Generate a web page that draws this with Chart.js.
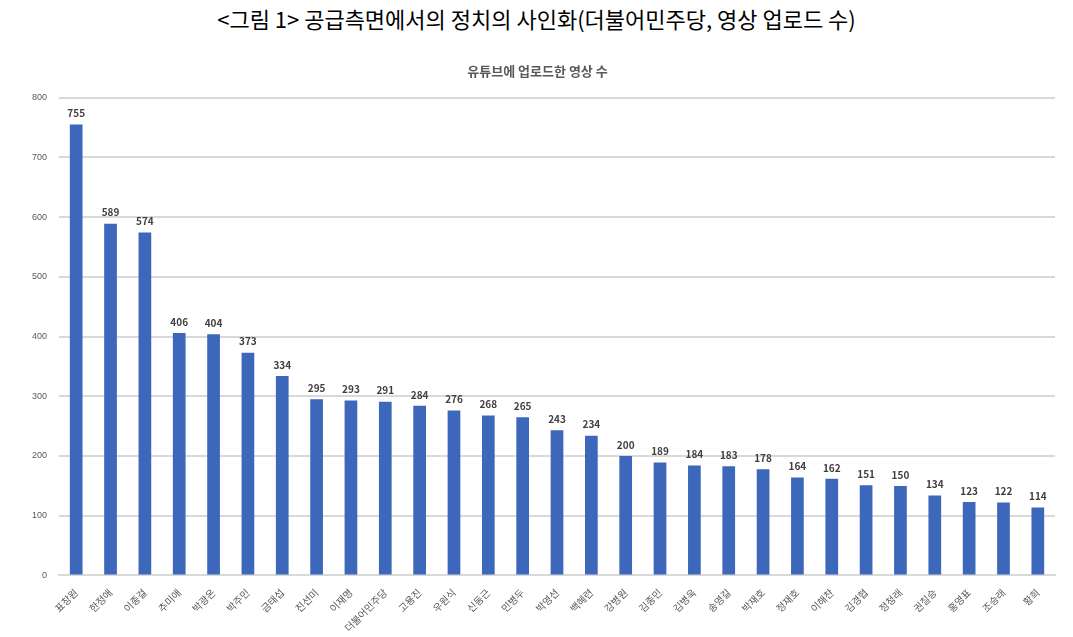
<!DOCTYPE html>
<html><head><meta charset="utf-8">
<script src="https://cdn.jsdelivr.net/npm/chart.js@4"></script>
<style>
body{margin:0;background:#fff;font-family:"Noto Sans CJK KR",sans-serif;}
#t{position:absolute;left:0;top:2px;width:1073px;text-align:center;font-size:22px;color:#000;font-family:"Noto Sans CJK KR";}
#w{position:absolute;left:20px;top:54px;width:1045px;height:583px;}
</style></head><body>
<div id="t">&lt;그림 1&gt; 공급측면에서의 정치의 사인화(더불어민주당, 영상 업로드 수)</div>
<div id="w"><canvas id="c"></canvas></div>
<script>
const categories=["표창원","한정애","이종걸","추미애","박광온","박주민","금태섭","진선미","이재명","더불어민주당","고용진","우원식","신동근","민병두","박영선","백혜련","강병원","김종민","김병욱","송영길","박재호","정재호","이해찬","김경협","정청래","권칠승","홍영표","조승래","황희"];
const values=[755,589,574,406,404,373,334,295,293,291,284,276,268,265,243,234,200,189,184,183,178,164,162,151,150,134,123,122,114];
const yTicks=[0,100,200,300,400,500,600,700,800];
const labelPlugin={id:'lbl',afterDatasetsDraw(ch){const ctx=ch.ctx;ctx.save();ctx.font='bold 10px "Noto Sans CJK KR"';ctx.fillStyle='#404040';ctx.textAlign='center';ctx.textBaseline='bottom';
ch.getDatasetMeta(0).data.forEach((b,i)=>{ctx.fillText(values[i],b.x,b.y-6);});ctx.restore();}};
new Chart(document.getElementById('c'),{type:'bar',
data:{labels:categories,datasets:[{data:values,backgroundColor:'#3D67BA',categoryPercentage:1,barPercentage:0.37}]},
options:{responsive:true,maintainAspectRatio:false,animation:false,
layout:{padding:{top:0,right:10,bottom:0,left:0}},
plugins:{legend:{display:false},tooltip:{enabled:false},
title:{display:true,text:'유튜브에 업로드한 영상 수',color:'#595959',font:{size:13,weight:'bold',family:'"Noto Sans CJK KR"'},padding:{top:9,bottom:19}}},
scales:{x:{grid:{display:false},border:{color:'#d9d9d9',width:2},ticks:{color:'#595959',font:{size:10,family:'"Noto Sans CJK KR"'},maxRotation:45,minRotation:45,autoSkip:false}},
y:{min:0,max:800,afterBuildTicks(a){a.ticks=yTicks.map(v=>({value:v}));},grid:{color:'#d9d9d9',lineWidth:2,drawTicks:false},border:{display:false},ticks:{color:'#595959',font:{size:9},padding:12}}}},
plugins:[labelPlugin]});
</script></body></html>
